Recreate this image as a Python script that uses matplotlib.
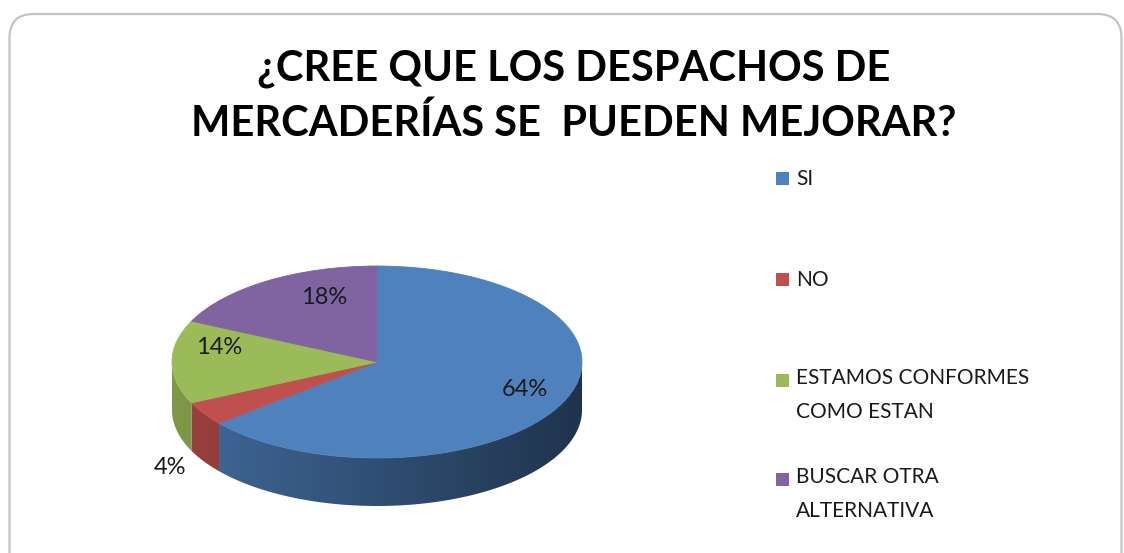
import numpy as np
import matplotlib.pyplot as plt
import matplotlib.patches as mpatches
import matplotlib.transforms as mtransforms
from matplotlib.colors import to_rgb

# data
categories = ["SI", "NO", "ESTAMOS CONFORMES\nCOMO ESTAN", "BUSCAR OTRA\nALTERNATIVA"]
values = [64, 4, 14, 18]
pct_labels = ["64%", "4%", "14%", "18%"]
colors = ["#4F81BD", "#C0504D", "#9BBB59", "#8064A2"]
title = "¿CREE QUE LOS DESPACHOS DE\nMERCADERÍAS SE  PUEDEN MEJORAR?"

W, H = 1124, 553
plt.rcParams['font.family'] = ['Lato', 'DejaVu Sans']
fig = plt.figure(figsize=(W / 100, H / 100), dpi=100)

# rounded chart frame (pixel coords), kept behind the axes
frame = mpatches.FancyBboxPatch((9.5, -30), 1112, H - 14 + 30,
                                boxstyle="round,pad=0,rounding_size=24",
                                transform=mtransforms.IdentityTransform(),
                                facecolor="none", edgecolor="#C4C4C4", linewidth=1.6, zorder=-1)
fig.add_artist(frame)

fig.text(574 / W, 1 - 96 / H, title, ha="center", va="center",
         fontsize=30, fontweight="bold", linespacing=1.48, color="black")

# pie axes: 1 unit in x = 205 px, 1 unit in y = 96 px (flattened ellipse)
cx, cy, a, b = 377, 191, 205, 96
depth = 0.5
ax = fig.add_axes([(cx - 1.5 * a) / W, (cy - 1.8 * b) / H, 3 * a / W, 3.1 * b / H])
wedges, _ = ax.pie(values, colors=colors, startangle=90, counterclock=False, radius=1)
for w in wedges:
    w.set_edgecolor(w.get_facecolor())
    w.set_linewidth(0.6)
    w.set_zorder(3)

# 3D side wall on the front half: gradient image clipped to each wall piece
xs = np.linspace(-1, 1, 400)
shade = 0.61 - 0.21 * xs
for w, c in zip(wedges, colors):
    grad = np.clip(np.array(to_rgb(c))[None, None, :] * shade[None, :, None], 0, 1)
    for k in (-360, 0, 360):
        t0 = max(w.theta1 + k, -180)
        t1 = min(w.theta2 + k, 0)
        if t1 <= t0:
            continue
        t = np.radians(np.linspace(t0, t1, 200))
        top = np.column_stack([np.cos(t), np.sin(t)])
        bot = np.column_stack([np.cos(t[::-1]), np.sin(t[::-1]) - depth])
        wall = mpatches.Polygon(np.vstack([top, bot]), closed=True, facecolor="none",
                                edgecolor="none", transform=ax.transData)
        ax.add_patch(wall)
        im = ax.imshow(grad, extent=(-1, 1, -1 - depth, 0), aspect="auto",
                       interpolation="bilinear", zorder=2)
        im.set_clip_path(wall)

ax.set_aspect("auto")
ax.set_xlim(-1.5, 1.5)
ax.set_ylim(-1.8, 1.3)
ax.axis("off")

# percentage labels
label_pos = [(0.72, -0.29), (-1.01, -1.10), (-0.77, 0.15), (-0.26, 0.67)]
for txt, (lx, ly) in zip(pct_labels, label_pos):
    ax.text(lx, ly, txt, ha="center", va="center", fontsize=17, color="#1a1a1a", zorder=5)

# legend (baseline of a multi-line text is its last line)
leg_y = [178, 279, 380, 479]
line_step = 31
for lab, c, y in zip(categories, colors, leg_y):
    fig.add_artist(mpatches.Rectangle((776, H - y - 6.5), 13, 13, facecolor=c, edgecolor="none",
                                      transform=mtransforms.IdentityTransform()))
    nl = lab.count("\n")
    fig.text(796 / W, 1 - (y + 7 + nl * line_step) / H, lab, ha="left", va="baseline",
             fontsize=15, linespacing=1.85, color="#1a1a1a")

fig.savefig("out.png", dpi=100, facecolor="white")
